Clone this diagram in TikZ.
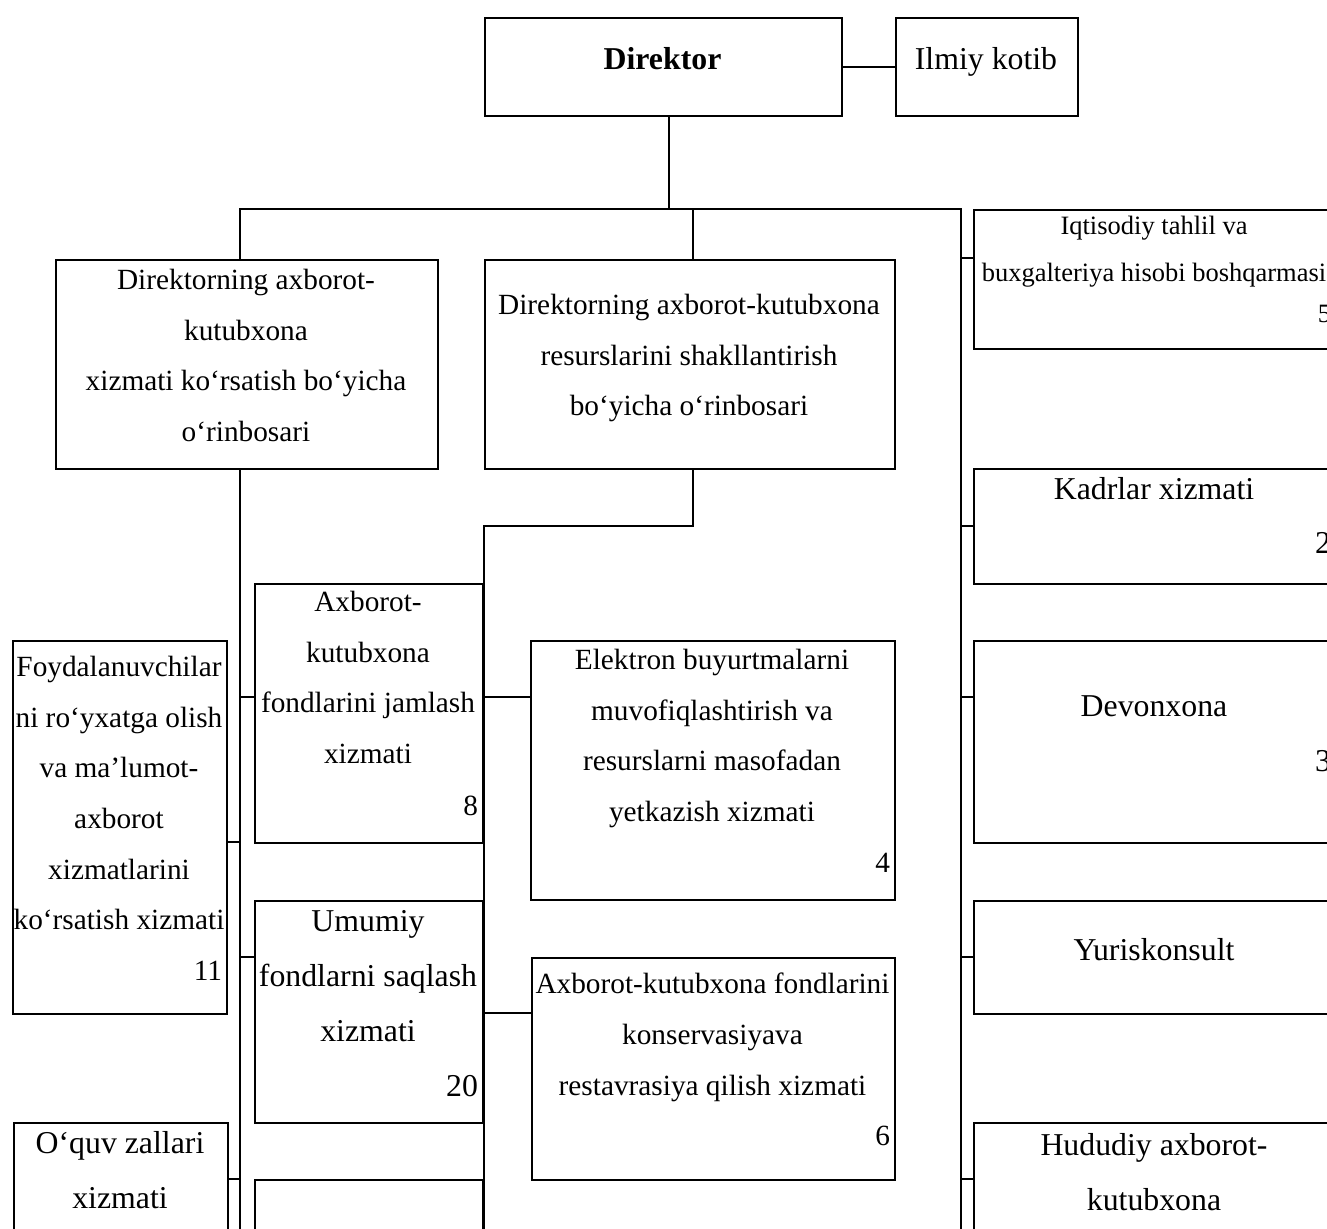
\documentclass[tikz,border=0pt]{standalone}
\usepackage{fontspec}
\setmainfont{Liberation Serif}

\begin{document}
\begin{tikzpicture}[x=0.5pt,y=-0.5pt,line width=1pt,
		box/.style 2 args={draw,anchor=north west,inner sep=0pt,minimum width=#1*0.5pt,minimum height=#2*0.5pt},
		txt/.style={anchor=north,inner sep=0pt,align=center},
		num/.style={anchor=base east,inner sep=0pt},
		fm/.style={font=\fontsize{14.65}{25.35}\selectfont},
		fb/.style={font=\fontsize{15.9}{27.5}\selectfont},
		fs/.style={font=\fontsize{13.25}{23.5}\selectfont}]
	\clip (0,0) rectangle (1327,1229);
	\node[box={357}{98}] (dir) at (484,17) {};
	\node[box={182}{98}] (kotib) at (895,17) {};
	\node[box={382}{209}] (dep1) at (55,259) {};
	\node[box={410}{209}] (dep2) at (484,259) {};
	\node[box={362}{139}] (iqt) at (973,209) {};
	\node[box={362}{115}] (kadr) at (973,468) {};
	\node[box={362}{202}] (devon) at (973,640) {};
	\node[box={362}{113}] (yuris) at (973,900) {};
	\node[box={362}{200}] (hudud) at (973,1122) {};
	\node[box={214}{373}] (foyd) at (12,640) {};
	\node[box={214}{200}] (oquv) at (13,1122) {};
	\node[box={228}{259}] (jaml) at (254,583) {};
	\node[box={228}{222}] (umum) at (254,900) {};
	\node[box={228}{150}] (xiz) at (254,1179) {};
	\node[box={364}{259}] (elek) at (530,640) {};
	\node[box={363}{222}] (kons) at (531,957) {};

	\node[txt,fb] (dirT) at (662.5,46.7) {\textbf{Direktor}};
	\node[txt,fb] (kotibT) at (986,46.3) {Ilmiy kotib};
	\node[txt,fm] (dep1T) at (246,268) {Direktorning axborot-\\kutubxona\\xizmati ko‘rsatish bo‘yicha\\o‘rinbosari};
	\node[txt,fm] (dep2T) at (689,293) {Direktorning axborot-kutubxona\\resurslarini shakllantirish\\bo‘yicha o‘rinbosari};
	\node[txt,fs] (iqtT) at (1154,215) {Iqtisodiy tahlil va\\buxgalteriya hisobi boshqarmasi};
	\node[txt,fb] (kadrT) at (1154,476.3) {Kadrlar xizmati};
	\node[txt,fb] (devonT) at (1154,695) {Devonxona};
	\node[txt,fb] (yurisT) at (1154,937.3) {Yuriskonsult};
	\node[txt,fb] (hududT) at (1154,1132.3) {Hududiy axborot-\\kutubxona};
	\node[txt,fm] (foydT) at (119,655) {Foydalanuvchilar\\ni ro‘yxatga olish\\va ma’lumot-\\axborot\\xizmatlarini\\ko‘rsatish xizmati};
	\node[txt,fb] (oquvT) at (120,1130.3) {O‘quv zallari\\xizmati};
	\node[txt,fm] (jamlT) at (368,590) {Axborot-\\kutubxona\\fondlarini jamlash\\xizmati};
	\node[txt,fb] (umumT) at (368,909) {Umumiy\\fondlarni saqlash\\xizmati};
	\node[txt,fm] (elekT) at (712,648) {Elektron buyurtmalarni\\muvofiqlashtirish va\\resurslarni masofadan\\yetkazish xizmati};
	\node[txt,fm] (konsT) at (712.5,972) {Axborot-kutubxona fondlarini\\konservasiyava\\restavrasiya qilish xizmati};

	\node[num,fs] (iqtN) at (1332,323) {5};
	\node[num,fb] (kadrN) at (1332,553) {2};
	\node[num,fb] (devonN) at (1332,771) {3};
	\node[num,fm] (foydN) at (223,980) {11};
	\node[num,fm] (jamlN) at (479,815) {8};
	\node[num,fb] (umumN) at (479,1096) {20};
	\node[num,fm] (elekN) at (891,872) {4};
	\node[num,fm] (konsN) at (891,1145) {6};

	\coordinate (d0) at (669,209);
	\coordinate (bL) at (240,209);
	\coordinate (bM) at (693,209);
	\coordinate (bR) at (961,209);
	\coordinate (eL) at (240,1240);
	\coordinate (eM) at (484,1240);
	\coordinate (eR) at (961,1240);
	\coordinate (m0) at (693,526);
	\coordinate (m1) at (484,526);

	\draw (dir.east) -- (kotib.west);
	\draw (d0 |- dir.south) -- (d0);
	\draw (bL |- dep1.north) -- (bL) -- (bR) -- (eR);
	\draw (bM) -- (bM |- dep2.north);
	\draw (bL |- dep1.south) -- (eL);
	\draw (m0 |- dep2.south) -- (m0) -- (m1) -- (eM);

	\coordinate (rIqt) at (961,258);
	\coordinate (rKadr) at (961,526);
	\coordinate (rDevon) at (961,697);
	\coordinate (rYuris) at (961,957);
	\coordinate (rHudud) at (961,1179);
	\draw (rIqt) -- (rIqt -| iqt.west);
	\draw (rKadr) -- (rKadr -| kadr.west);
	\draw (rDevon) -- (rDevon -| devon.west);
	\draw (rYuris) -- (rYuris -| yuris.west);
	\draw (rHudud) -- (rHudud -| hudud.west);

	\coordinate (lJaml) at (240,697);
	\coordinate (lFoyd) at (240,842);
	\coordinate (lUmum) at (240,957);
	\coordinate (lOquv) at (240,1179);
	\draw (lJaml) -- (lJaml -| jaml.west);
	\draw (lFoyd) -- (lFoyd -| foyd.east);
	\draw (lUmum) -- (lUmum -| umum.west);
	\draw (lOquv) -- (lOquv -| oquv.east);

	\coordinate (mElek) at (484,697);
	\coordinate (mKons) at (484,1013);
	\draw (mElek) -- (mElek -| elek.west);
	\draw (mKons) -- (mKons -| kons.west);
\end{tikzpicture}
\end{document}
